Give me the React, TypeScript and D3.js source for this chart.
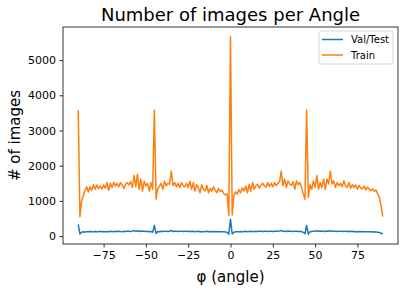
import React, { useEffect, useRef } from "react";
import * as d3 from "d3";

// angles from -90 to 90, one degree apart
const angles: number[] = d3.range(-90, 91);

const trainCounts: number[] = [
  3580, 550, 1000, 1150, 1300, 1400, 1250, 1400, 1300, 1450,
  1330, 1450, 1350, 1420, 1330, 1450, 1360, 1520, 1300, 1500,
  1380, 1530, 1420, 1500, 1400, 1520, 1450, 1350, 1480, 1520,
  1450, 1550, 1380, 1720, 1400, 1760, 1330, 1620, 1280, 1560,
  1420, 1500, 1280, 1520, 1330, 3580, 1050, 1350, 1420, 1500,
  1330, 1560, 1430, 1500, 1470, 1850, 1430, 1520, 1400, 1500,
  1380, 1520, 1430, 1400, 1500, 1380, 1560, 1330, 1520, 1280,
  1460, 1380, 1230, 1460, 1330, 1280, 1440, 1230, 1360, 1280,
  1400, 1300, 1230, 1360, 1260, 1310, 1210, 1170, 1200, 580,
  5660,
  600, 1150, 1260, 1190, 1320, 1230, 1370, 1280, 1420, 1230,
  1470, 1280, 1520, 1330, 1420, 1470, 1360, 1440, 1500, 1430,
  1390, 1520, 1410, 1500, 1400, 1520, 1430, 1500, 1540, 1850,
  1430, 1620, 1380, 1570, 1480, 1440, 1540, 1330, 1570, 1460,
  1520, 1380, 1200, 1050, 3580, 1100, 1460, 1330, 1570, 1380,
  1720, 1330, 1520, 1380, 1620, 1330, 1620, 1480, 1850, 1480,
  1570, 1380, 1520, 1430, 1500, 1400, 1570, 1430, 1380, 1520,
  1360, 1460, 1380, 1450, 1330, 1440, 1360, 1340, 1420, 1310,
  1390, 1330, 1290, 1340, 1270, 1310, 1200, 1100, 850, 550,
];

const valCounts: number[] = [
  330, 60, 110, 120, 115, 125, 120, 130, 125, 120,
  130, 125, 120, 135, 125, 130, 120, 130, 125, 135,
  130, 125, 135, 130, 140, 130, 125, 135, 130, 140,
  135, 130, 140, 160, 135, 150, 130, 145, 135, 140,
  130, 135, 125, 130, 110, 300, 70, 130, 125, 135,
  130, 140, 135, 130, 135, 160, 130, 140, 135, 130,
  140, 135, 130, 140, 135, 130, 140, 130, 135, 125,
  130, 135, 125, 130, 125, 130, 135, 125, 130, 125,
  130, 125, 120, 130, 125, 120, 125, 115, 110, 55,
  480,
  60, 110, 120, 125, 120, 130, 125, 130, 135, 125,
  130, 135, 130, 125, 135, 130, 140, 135, 130, 140,
  135, 130, 140, 135, 130, 140, 135, 140, 145, 160,
  135, 140, 130, 145, 135, 140, 130, 135, 140, 130,
  135, 125, 110, 65, 300, 55, 120, 130, 140, 135,
  150, 140, 145, 135, 140, 130, 145, 135, 150, 140,
  135, 140, 130, 140, 135, 130, 140, 135, 130, 135,
  130, 135, 125, 130, 125, 130, 125, 130, 120, 125,
  120, 125, 120, 115, 120, 115, 110, 100, 85, 55,
];

const seriesNames: string[] = ["Val/Test", "Train"];
const seriesColors: string[] = ["#1f77b4", "#ff7f0e"];
const xTicks: number[] = [-75, -50, -25, 0, 25, 50, 75];
const yTicks: number[] = [0, 1000, 2000, 3000, 4000, 5000];

const W = 405;
const H = 290;
const FONT = "DejaVu Sans, sans-serif";

const App = () => {
  const ref = useRef<SVGSVGElement>(null);

  useEffect(() => {
    const svg = d3.select(ref.current);
    svg.selectAll("*").remove();

    const margin = { top: 27, right: 7, bottom: 46, left: 63 };
    const x = d3
      .scaleLinear()
      .domain([-99, 99])
      .range([margin.left, W - margin.right]);
    const y = d3
      .scaleLinear()
      .domain([-225, 5940])
      .range([H - margin.bottom, margin.top]);

    const all = [valCounts, trainCounts];

    const line = d3
      .line<number>()
      .x((_, i) => x(angles[i]))
      .y((d) => y(d));

    all.forEach((vals, k) => {
      svg
        .append("path")
        .datum(vals)
        .attr("fill", "none")
        .attr("stroke", seriesColors[k])
        .attr("stroke-width", 1.5)
        .attr("stroke-linejoin", "round")
        .attr("d", line);
    });

    // axes
    const xAxis = svg
      .append("g")
      .attr("transform", `translate(0,${H - margin.bottom})`)
      .call(
        d3
          .axisBottom(x)
          .tickValues(xTicks)
          .tickSizeOuter(0)
          .tickSize(3.5)
          .tickPadding(3.5)
          .tickFormat((d) => String(d).replace("-", "\u2212"))
      );
    xAxis.select(".domain").remove();

    const yAxis = svg
      .append("g")
      .attr("transform", `translate(${margin.left},0)`)
      .call(
        d3
          .axisLeft(y)
          .tickValues(yTicks)
          .tickSizeOuter(0)
          .tickSize(3.5)
          .tickPadding(3.5)
          .tickFormat(d3.format("d"))
      );
    yAxis.select(".domain").remove();

    svg.selectAll(".tick text").attr("font-family", FONT).attr("font-size", 11).attr("fill", "#000");
    svg.selectAll(".tick line").attr("stroke", "#000").attr("stroke-width", 0.8);

    // frame
    svg
      .append("rect")
      .attr("x", margin.left)
      .attr("y", margin.top)
      .attr("width", W - margin.left - margin.right)
      .attr("height", H - margin.top - margin.bottom)
      .attr("fill", "none")
      .attr("stroke", "#000")
      .attr("stroke-width", 0.8);

    // titles
    svg
      .append("text")
      .attr("x", (margin.left + W - margin.right) / 2)
      .attr("y", 21)
      .attr("text-anchor", "middle")
      .attr("font-family", FONT)
      .attr("font-size", 18)
      .text("Number of images per Angle");

    svg
      .append("text")
      .attr("x", (margin.left + W - margin.right) / 2)
      .attr("y", 282)
      .attr("text-anchor", "middle")
      .attr("font-family", FONT)
      .attr("font-size", 15)
      .text("\u03c6 (angle)");

    svg
      .append("text")
      .attr("transform", `translate(20,${(margin.top + H - margin.bottom) / 2}) rotate(-90)`)
      .attr("text-anchor", "middle")
      .attr("font-family", FONT)
      .attr("font-size", 15)
      .text("# of images");

    // legend
    const lg = svg.append("g").attr("transform", "translate(319,31)");
    lg.append("rect")
      .attr("width", 74)
      .attr("height", 33)
      .attr("rx", 2)
      .attr("fill", "#fff")
      .attr("fill-opacity", 0.8)
      .attr("stroke", "#ccc")
      .attr("stroke-width", 0.8);
    seriesNames.forEach((name, i) => {
      const yy = 8.5 + i * 15.5;
      lg.append("line")
        .attr("x1", 3)
        .attr("x2", 24)
        .attr("y1", yy)
        .attr("y2", yy)
        .attr("stroke", seriesColors[i])
        .attr("stroke-width", 1.5);
      lg.append("text")
        .attr("x", 32)
        .attr("y", yy + 3.5)
        .attr("font-family", FONT)
        .attr("font-size", 10)
        .text(name);
    });
  }, []);

  return (
    <svg
      ref={ref}
      width={W}
      height={H}
      style={{ position: "absolute", left: 0, top: 0, background: "#fff" }}
    />
  );
};

export default App;
